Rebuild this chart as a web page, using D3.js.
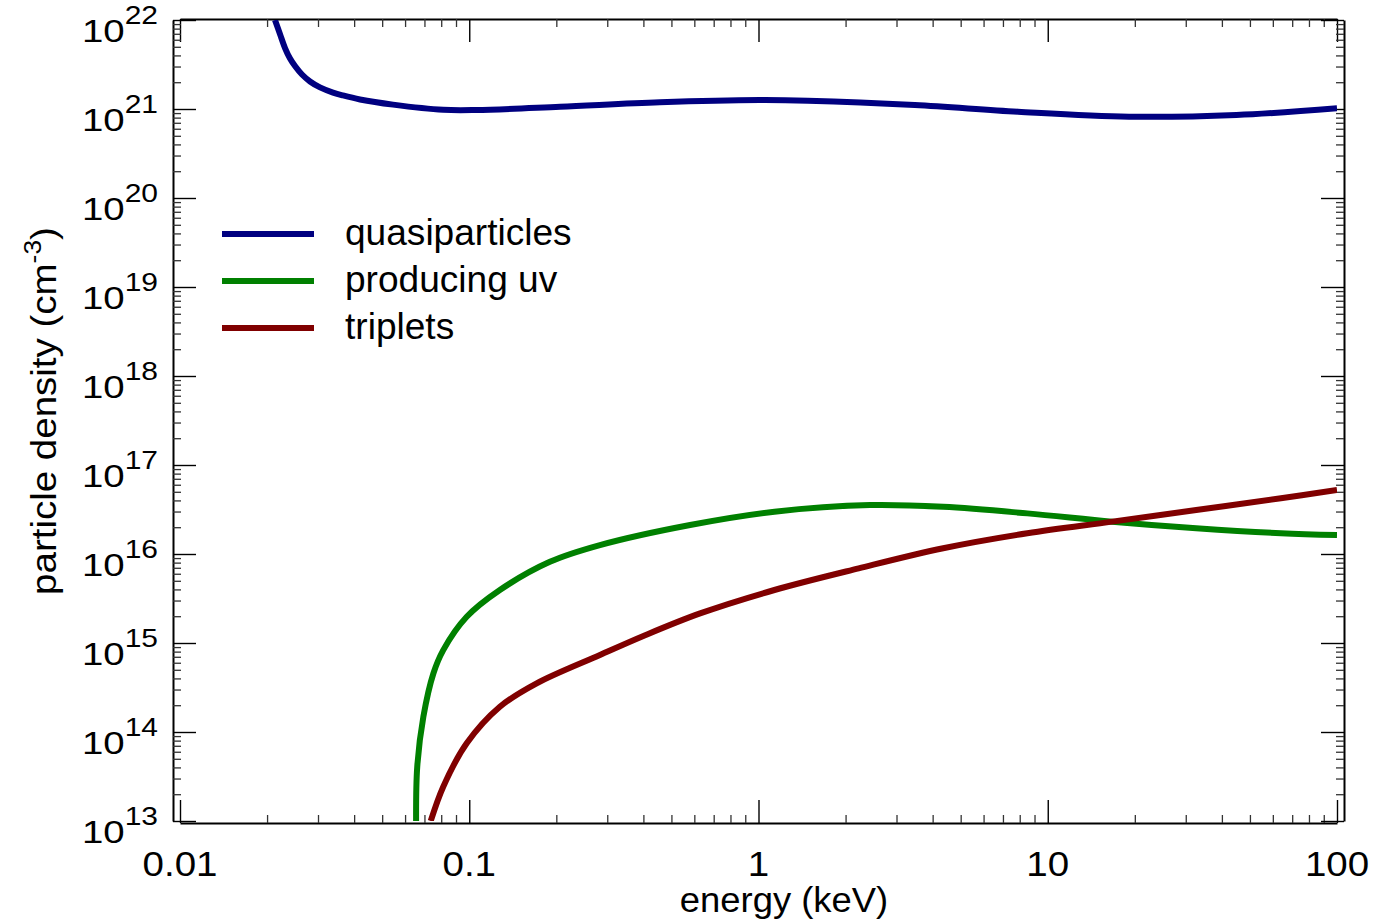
<!DOCTYPE html>
<meta charset="utf-8">
<style>
body { margin: 0; background: #fff; }
text { font-family: "Liberation Sans", Arial, sans-serif; fill: #000; }
</style>
<body>
<div id="chart"></div>
<script src="https://cdn.jsdelivr.net/npm/d3@7"></script>
<script>

// energies (keV) and densities (cm^-3)
var qpEnergy = [0.0213, 0.02216, 0.02307, 0.02401, 0.02498, 0.02641, 0.02815, 0.03048, 0.03381, 0.0366, 0.04191, 0.0545, 0.0813, 0.106, 0.206, 0.456, 1.01, 1.48, 3.47, 7.89, 19.1, 44.9, 100];
var qpDensity = [1.0e22, 6.96e21, 4.84e21, 3.69e21, 3.04e21, 2.44e21, 2.04e21, 1.75e21, 1.53e21, 1.42e21, 1.28e21, 1.12e21, 9.8e20, 9.75e20, 1.06e21, 1.19e21, 1.26e21, 1.24e21, 1.11e21, 9.33e20, 8.20e20, 8.57e20, 1.02e21];

var uvEnergy = [0.0655, 0.0661, 0.0694, 0.0752, 0.0813, 0.098, 0.1276, 0.19, 0.283, 0.58, 1.135, 2.43, 4.35, 8.5, 16.7, 32.6, 64, 100];
var uvDensity = [1.0e13, 4.07e13, 1.48e14, 4.57e14, 8.32e14, 1.97e15, 3.94e15, 8.18e15, 1.26e16, 2.12e16, 2.99e16, 3.55e16, 3.39e16, 2.86e16, 2.31e16, 1.95e16, 1.71e16, 1.63e16];

var trEnergy = [0.0736, 0.0813, 0.098, 0.1276, 0.171, 0.283, 0.40, 0.628, 1.135, 2.22, 4.35, 8.5, 16.7, 32.6, 64, 100];
var trDensity = [1.0e13, 2.43e13, 7.46e13, 1.92e14, 3.52e14, 7.33e14, 1.20e15, 2.15e15, 3.94e15, 6.90e15, 1.16e16, 1.71e16, 2.31e16, 3.12e16, 4.23e16, 5.24e16];

var seriesNames = ["quasiparticles", "producing uv", "triplets"];
var seriesColors = ["#000080", "#008000", "#800000"];

var xTicks = [0.01, 0.1, 1, 10, 100];
var xTickLabels = ["0.01", "0.1", "1", "10", "100"];
var yExponents = [13, 14, 15, 16, 17, 18, 19, 20, 21, 22];

var width = 1399, height = 923;
var plotLeft = 180, plotRight = 1337, plotTop = 20, plotBottom = 821;

var svg = d3.select("#chart").append("svg")
    .attr("width", width)
    .attr("height", height);

var x = d3.scaleLog().domain([0.01, 100]).range([plotLeft, plotRight]);
var y = d3.scaleLog().domain([1e13, 1e22]).range([plotBottom, plotTop]);

function minorsOf(lo, hi) {
  var out = [];
  for (var p = lo; p < hi; p++) {
    for (var m = 2; m <= 9; m++) out.push(m * Math.pow(10, p));
  }
  return out;
}
var xMinor = minorsOf(-2, 2);
var yMinor = minorsOf(13, 22);
var yMajor = yExponents.map(function(e) { return Math.pow(10, e); });

// axes: major + minor on every side, IDL style
function drawAxis(axisFn, scale, majors, minors, tr) {
  var g = svg.append("g").attr("transform", tr);
  g.call(axisFn(scale).tickValues(majors).tickSizeInner(23).tickSizeOuter(0).tickFormat(""));
  g.select(".domain").attr("stroke-width", 2);
  g.selectAll(".tick line").attr("stroke-width", 1.4);
  var gm = svg.append("g").attr("transform", tr);
  gm.call(axisFn(scale).tickValues(minors).tickSizeInner(8).tickSizeOuter(0).tickFormat(""));
  gm.select(".domain").remove();
  gm.selectAll(".tick line").attr("stroke-width", 1.3).attr("stroke", "#333");
}
drawAxis(d3.axisTop, x, xTicks, xMinor, "translate(0,823)");
drawAxis(d3.axisBottom, x, xTicks, xMinor, "translate(0,19)");
drawAxis(d3.axisRight, y, yMajor, yMinor, "translate(173,0)");
drawAxis(d3.axisLeft, y, yMajor, yMinor, "translate(1344,0)");

// x tick labels (the original font is a little wide)
svg.selectAll(".xlab")
    .data(xTicks)
  .enter().append("text")
    .attr("class", "xlab")
    .attr("transform", function(d) { return "translate(" + x(d) + ",876) scale(1.1,1)"; })
    .attr("text-anchor", "middle")
    .style("font-size", "35px")
    .text(function(d, i) { return xTickLabels[i]; });

// y tick labels with superscript exponent
var ylab = svg.selectAll(".ylab")
    .data(yExponents)
  .enter().append("text")
    .attr("class", "ylab")
    .attr("transform", function(d) {
      return "translate(158," + (y(Math.pow(10, d)) + 22) + ") scale(1.2,1)";
    })
    .attr("text-anchor", "end")
    .style("font-size", "32px");
ylab.append("tspan").text("10");
ylab.append("tspan")
    .attr("dy", -18)
    .style("font-size", "25px")
    .text(function(d) { return d; });

// axis titles
svg.append("text")
    .attr("transform", "translate(784,912) scale(1.04,1)")
    .attr("text-anchor", "middle")
    .style("font-size", "35px")
    .text("energy (keV)");

var yt = svg.append("text")
    .attr("transform", "translate(56,411) rotate(-90) scale(1.1,1)")
    .attr("text-anchor", "middle")
    .style("font-size", "35px");
yt.append("tspan").text("particle density (cm");
yt.append("tspan").attr("dy", -15).style("font-size", "24px").text("-3");
yt.append("tspan").attr("dy", 15).text(")");

// curves
svg.append("clipPath").attr("id", "clip")
  .append("rect")
    .attr("x", plotLeft).attr("y", plotTop)
    .attr("width", plotRight - plotLeft).attr("height", plotBottom - plotTop);

var line = d3.line()
    .x(function(d) { return x(d[0]); })
    .y(function(d) { return y(d[1]); })
    .curve(d3.curveCatmullRom.alpha(0.5));

var series = [
  d3.zip(qpEnergy, qpDensity),
  d3.zip(uvEnergy, uvDensity),
  d3.zip(trEnergy, trDensity)
];

svg.append("g").attr("clip-path", "url(#clip)")
  .selectAll("path")
    .data(series)
  .enter().append("path")
    .attr("d", line)
    .attr("fill", "none")
    .attr("stroke", function(d, i) { return seriesColors[i]; })
    .attr("stroke-width", 6);

// legend
var legend = svg.selectAll(".legend")
    .data(seriesNames)
  .enter().append("g")
    .attr("class", "legend")
    .attr("transform", function(d, i) { return "translate(0," + (234 + i * 47) + ")"; });

legend.append("line")
    .attr("x1", 222).attr("x2", 314)
    .attr("stroke", function(d, i) { return seriesColors[i]; })
    .attr("stroke-width", 6);

legend.append("text")
    .attr("transform", "translate(345,11) scale(1.03,1)")
    .style("font-size", "36px")
    .text(function(d) { return d; });

</script>
</body>
